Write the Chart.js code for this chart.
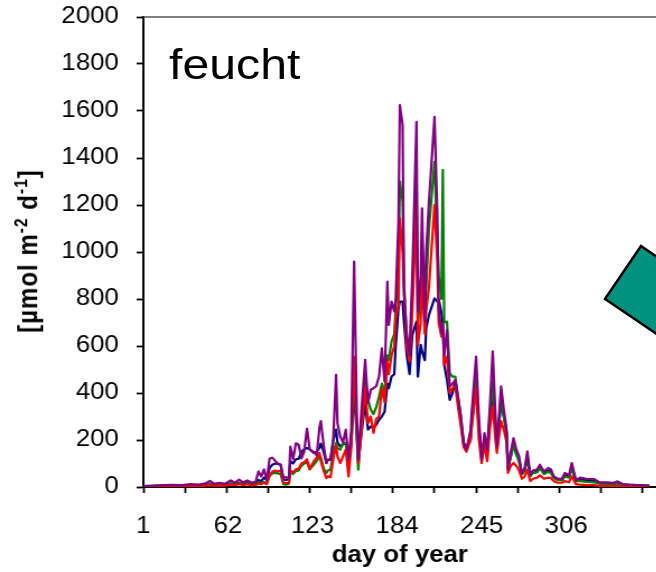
<!DOCTYPE html>
<html>
<head>
<meta charset="utf-8">
<script src="https://cdn.jsdelivr.net/npm/chart.js@4.4.1/dist/chart.umd.min.js"></script>
<style>
  html, body { margin: 0; padding: 0; background: #fff; overflow: hidden; }
  #stage { position: relative; width: 586px; height: 572px; transform: scaleX(1.12); transform-origin: 0 0; }
  #plot { position: absolute; left: 0; top: 0; }
  .ylabel { position: absolute; left: 24.5px; top: 251px; transform: translate(-50%, -50%) rotate(-90deg);
            font: bold 24px "Liberation Sans", Arial, sans-serif; letter-spacing: 1px; white-space: nowrap; color: #000; }
  .ylabel sup { font-size: 65%; vertical-align: 0.55em; line-height: 0; }
  .site { position: absolute; left: 151px; top: 43px; font: 43px/1 "Liberation Sans", Arial, sans-serif; color: #000; }
  #arrow { position: absolute; left: 0; top: 0; }
</style>
</head>
<body>
<div id="stage">
  <canvas id="plot" width="586" height="572"></canvas>
  <div class="site">feucht</div>
  <div class="ylabel">[µmol m<sup>-2</sup> d<sup>-1</sup>]</div>
</div>
<svg id="arrow" width="656" height="572">
  <polygon points="605,299 641,246 700,286 664,339" fill="#00927f" stroke="#000" stroke-width="2.5" stroke-linejoin="miter"/>
</svg>
<script>
// day of year of each reading
var days = [
  1, 8, 15, 22, 29, 35, 41, 46, 49, 52, 56, 60, 64, 67, 70, 73, 76, 79, 82,
  84, 86, 88, 90, 92, 94, 96, 98, 100, 102, 104, 106, 107, 109, 111, 113, 115, 117, 119, 121,
  124, 126, 128, 129, 131, 133, 134, 136, 138, 140, 141, 143, 145, 147, 149, 151, 153, 155, 156, 158,
  161, 163, 165, 167, 169, 171, 173, 175, 177, 178, 180, 182, 183, 185, 186, 188, 189, 191, 193, 195,
  198, 199, 201, 202, 204, 205, 207, 211, 213, 214, 216, 217, 218, 220, 222, 224, 226, 228, 230, 232,
  234, 237, 238, 241, 243, 245, 247, 249, 251, 253, 255, 256, 259, 261, 263, 264, 266, 268, 270, 272,
  274, 276, 278, 280, 282, 285, 287, 290, 293, 295, 297, 300, 303, 305, 308, 310, 313, 316, 321, 326,
  330, 335, 340, 343, 347, 352, 358, 366
];

var purpleSeries = [
  5, 6, 8, 9, 8, 12, 10, 16, 26, 14, 18, 14, 28, 18, 31, 20, 28, 18, 22,
  66, 45, 75, 28, 120, 125, 112, 100, 95, 38, 42, 36, 172, 118, 186, 180, 122, 150, 248, 160,
  148, 135, 252, 280, 180, 102, 116, 115, 205, 477, 272, 215, 190, 244, 116, 244, 959, 300, 116, 300,
  541, 357, 414, 420, 430, 470, 590, 449, 874, 690, 789, 747, 800, 1129, 1625, 1540, 817, 650, 562, 902,
  1554, 747, 900, 1186, 704, 1000, 1214, 1575, 1172, 760, 654, 700, 560, 668, 427, 440, 455, 380, 300, 190,
  158, 243, 330, 555, 300, 116, 229, 158, 350, 577, 300, 173, 428, 329, 244, 74, 150, 208, 160, 130,
  60, 80, 152, 52, 70, 74, 95, 66, 81, 75, 45, 35, 35, 60, 50, 102, 30, 40, 34, 34,
  20, 20, 18, 24, 12, 10, 8, 6
];

var greenSeries = [
  3, 3, 4, 4, 5, 6, 6, 8, 12, 8, 10, 9, 14, 11, 16, 12, 16, 10, 12,
  20, 18, 22, 15, 45, 58, 60, 58, 55, 12, 10, 14, 62, 55, 68, 70, 90, 100, 105, 75,
  95, 110, 130, 125, 80, 60, 70, 74, 150, 187, 165, 159, 187, 187, 102, 187, 500, 215, 74, 244,
  470, 371, 329, 310, 340, 385, 440, 400, 560, 540, 620, 650, 760, 900, 1300, 1214, 870, 620, 560, 820,
  1300, 700, 800, 1000, 680, 850, 1100, 1384, 1050, 900, 800, 1350, 700, 704, 484, 470, 470, 380, 300, 190,
  170, 200, 300, 480, 250, 140, 200, 130, 300, 450, 250, 170, 380, 300, 230, 80, 130, 180, 140, 110,
  55, 70, 130, 45, 60, 62, 80, 55, 65, 60, 38, 30, 28, 45, 40, 85, 25, 25, 22, 20,
  14, 12, 10, 12, 8, 7, 6, 5
];

var redSeries = [
  2, 2, 3, 3, 4, 4, 4, 6, 8, 6, 7, 6, 10, 8, 12, 8, 12, 7, 8,
  15, 12, 18, 12, 50, 65, 70, 66, 70, 18, 16, 18, 70, 62, 75, 78, 100, 105, 118, 76,
  110, 125, 145, 110, 70, 38, 45, 42, 120, 175, 130, 102, 130, 159, 45, 173, 555, 244, 102, 215,
  428, 272, 300, 230, 290, 300, 420, 360, 534, 480, 560, 600, 720, 775, 1143, 1000, 846, 600, 534, 747,
  1200, 605, 700, 902, 650, 750, 850, 1200, 959, 700, 640, 680, 520, 555, 400, 420, 430, 340, 260, 170,
  150, 200, 260, 420, 200, 102, 180, 110, 250, 343, 200, 145, 280, 244, 190, 60, 90, 102, 90, 70,
  35, 45, 74, 25, 35, 40, 50, 35, 40, 38, 25, 18, 18, 25, 20, 45, 12, 10, 8, 8,
  5, 5, 4, 5, 3, 3, 2, 2
];

var blueSeries = [
  4, 5, 6, 6, 7, 8, 8, 10, 14, 10, 12, 11, 16, 13, 18, 14, 18, 12, 14,
  30, 25, 40, 30, 80, 95, 100, 98, 95, 32, 30, 35, 110, 100, 118, 120, 150, 160, 166, 160,
  145, 150, 166, 185, 150, 102, 116, 118, 200, 244, 190, 173, 180, 187, 116, 187, 414, 215, 102, 215,
  357, 244, 258, 250, 265, 286, 300, 320, 440, 420, 470, 480, 600, 761, 789, 789, 704, 560, 480, 647,
  704, 470, 605, 577, 540, 676, 732, 803, 789, 800, 740, 690, 520, 456, 371, 400, 456, 360, 280, 180,
  160, 210, 280, 450, 250, 130, 200, 150, 300, 385, 250, 165, 360, 300, 230, 80, 130, 180, 140, 110,
  55, 70, 125, 48, 60, 65, 85, 58, 70, 65, 40, 32, 30, 50, 45, 80, 25, 30, 28, 26,
  16, 15, 14, 16, 10, 8, 7, 5
];

// x axis: tick marks every 30 days, labels every 61 days
var xTickDays = [1, 31, 61, 91, 121, 151, 181, 211, 241, 271, 301, 331, 361];
var xLabelDays = [1, 62, 123, 184, 245, 306];

var FONT = '"Liberation Sans", Arial, sans-serif';

function points(values) {
  return days.map(function (d, i) { return { x: d, y: values[i] }; });
}

function line(label, color, values) {
  return {
    label: label,
    data: points(values),
    borderColor: color,
    borderWidth: 2.2,
    borderJoinStyle: 'round',
    pointRadius: 0,
    tension: 0,
    fill: false
  };
}

// thin frame line along the top of the plot area
var topFrame = {
  id: 'topFrame',
  afterDraw: function (chart) {
    var a = chart.chartArea;
    var ctx = chart.ctx;
    ctx.save();
    ctx.strokeStyle = '#555';
    ctx.lineWidth = 1.5;
    ctx.beginPath();
    ctx.moveTo(a.left, a.top);
    ctx.lineTo(a.right, a.top);
    ctx.stroke();
    ctx.restore();
  }
};

var allXTicks = xTickDays.concat(xLabelDays.filter(function (d) { return xTickDays.indexOf(d) < 0; }))
  .sort(function (a, b) { return a - b; });

new Chart(document.getElementById('plot'), {
  type: 'line',
  data: {
    datasets: [
      line('purple', '#800080', purpleSeries),
      line('red', '#ff0000', redSeries),
      line('green', '#008000', greenSeries),
      line('blue', '#000080', blueSeries)
    ]
  },
  options: {
    responsive: false,
    animation: false,
    layout: { padding: { top: 17, right: 0, bottom: 0, left: 0 } },
    plugins: { legend: { display: false }, tooltip: { enabled: false } },
    scales: {
      x: {
        type: 'linear',
        min: 1,
        max: 371,
        afterBuildTicks: function (scale) {
          scale.ticks = allXTicks.map(function (v) { return { value: v }; });
        },
        afterFit: function (scale) {
          scale.height = 85;
          scale.paddingLeft = 0;
          scale.paddingRight = 0;
        },
        ticks: {
          autoSkip: false,
          maxRotation: 0,
          minRotation: 0,
          padding: 20,
          color: '#000',
          font: { family: FONT, size: 23 },
          callback: function (v) { return xLabelDays.indexOf(v) >= 0 ? String(v) : ''; }
        },
        grid: {
          drawOnChartArea: false,
          tickLength: 6,
          tickWidth: 1.8,
          tickColor: function (c) {
            return c.tick && xTickDays.indexOf(c.tick.value) >= 0 ? '#000' : 'rgba(0,0,0,0)';
          }
        },
        border: { color: '#000', width: 2 },
        title: {
          display: true,
          text: 'day of year',
          color: '#000',
          font: { family: FONT, size: 23, weight: 'bold' },
          padding: { top: 0, bottom: 3 }
        }
      },
      y: {
        min: 0,
        max: 2000,
        afterFit: function (scale) {
          scale.width = 128;
          scale.paddingTop = 0;
          scale.paddingBottom = 0;
        },
        ticks: {
          stepSize: 200,
          padding: 16,
          color: '#000',
          font: { family: FONT, size: 23 },
          callback: function (v) { return String(v); }
        },
        grid: { drawOnChartArea: false, tickLength: 6, tickWidth: 1.8, tickColor: '#000' },
        border: { color: '#000', width: 2 }
      }
    }
  },
  plugins: [topFrame]
});
</script>
</body>
</html>
